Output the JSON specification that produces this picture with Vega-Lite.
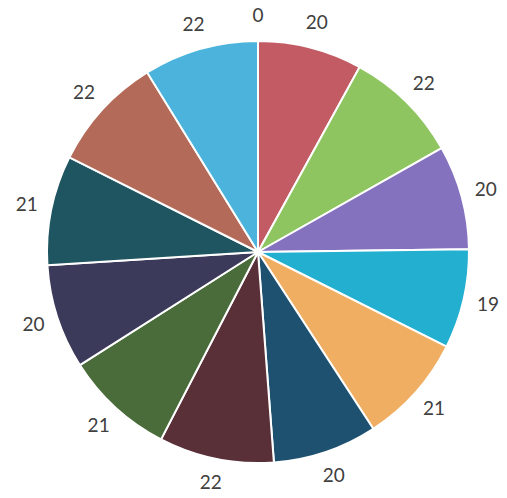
{
  "$schema": "https://vega.github.io/schema/vega-lite/v6.json",
  "autosize": {"type": "fit", "contains": "padding"},
  "width": 507,
  "height": 498,
  "padding": {"left": 9, "top": 6, "right": 0, "bottom": 0},
  "background": "white",
  "view": {"stroke": null},
  "data": {
    "values": [
      {"i": 0, "slice": "s0", "value": 0},
      {"i": 1, "slice": "s1", "value": 20},
      {"i": 2, "slice": "s2", "value": 22},
      {"i": 3, "slice": "s3", "value": 20},
      {"i": 4, "slice": "s4", "value": 19},
      {"i": 5, "slice": "s5", "value": 21},
      {"i": 6, "slice": "s6", "value": 20},
      {"i": 7, "slice": "s7", "value": 22},
      {"i": 8, "slice": "s8", "value": 21},
      {"i": 9, "slice": "s9", "value": 20},
      {"i": 10, "slice": "s10", "value": 21},
      {"i": 11, "slice": "s11", "value": 22},
      {"i": 12, "slice": "s12", "value": 22}
    ]
  },
  "encoding": {
    "theta": {"field": "value", "type": "quantitative", "stack": true},
    "order": {"field": "i", "type": "quantitative"},
    "color": {
      "field": "slice",
      "type": "nominal",
      "legend": null,
      "scale": {
        "domain": ["s0","s1","s2","s3","s4","s5","s6","s7","s8","s9","s10","s11","s12"],
        "range": ["#ffffff","#C25B63","#8FC560","#8572BF","#22AFD0","#F0AE62","#1E5070","#5A3038","#4A6B3A","#3C3A5A","#1F5560","#B46A58","#4BB3DC"]
      }
    }
  },
  "layer": [
    {
      "mark": {"type": "arc", "outerRadius": 211, "stroke": "white", "strokeWidth": 2}
    },
    {
      "mark": {"type": "text", "radius": 236, "fontSize": 19, "font": "Lato", "fill": "#404040"},
      "encoding": {
        "text": {"field": "value", "type": "quantitative"},
        "color": {"value": "#404040"}
      }
    }
  ]
}
